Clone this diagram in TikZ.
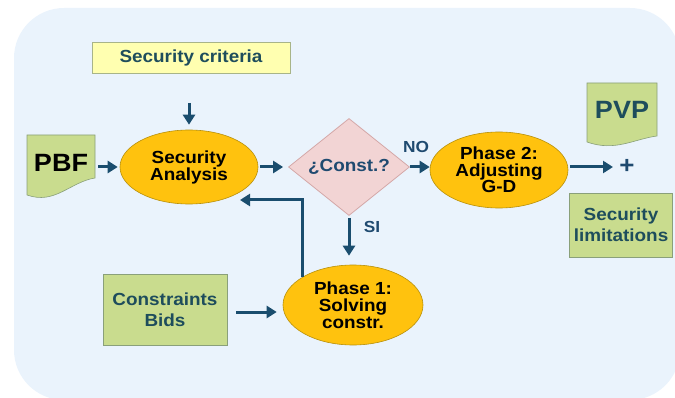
\documentclass[tikz,border=0pt]{standalone}
\usepackage{fontspec}
\setmainfont{Liberation Sans}[FakeStretch=1.08]
\usetikzlibrary{shapes.geometric,arrows.meta}

\definecolor{bgblue}{HTML}{EAF3FC}
\definecolor{flowblue}{HTML}{1A4D6E}
\definecolor{boxtext}{HTML}{1E4D5C}
\definecolor{labeltext}{HTML}{1F4A70}
\definecolor{gold}{HTML}{FFC20E}
\definecolor{goldline}{HTML}{B8900A}
\definecolor{leaf}{HTML}{C9DC8E}
\definecolor{leafline}{HTML}{8AA07A}
\definecolor{paleyellow}{HTML}{FFFFB0}
\definecolor{paleline}{HTML}{A8B488}
\definecolor{rose}{HTML}{F2D4D4}
\definecolor{roseline}{HTML}{D4A8A8}

\tikzset{
  txt/.style={font=\bfseries\fontsize{17.5}{17}\selectfont, align=center},
  oval/.style={txt, ellipse, draw=goldline, line width=0.6pt, fill=gold,
               inner sep=0pt, text=black},
  greenbox/.style={txt, rectangle, draw=leafline, line width=0.8pt, fill=leaf,
                   text=boxtext, inner sep=0pt,
                   font=\bfseries\fontsize{17.5}{21}\selectfont},
  docshape/.style={fill=leaf, draw=leafline, line width=0.6pt},
  doclabel/.style={txt, inner sep=0pt, font=\bfseries\fontsize{25}{25}\selectfont},
  arr/.style={draw=flowblue, line width=3pt,
              -{Triangle[width=12pt,length=10pt]}},
  flag/.style={txt, text=labeltext, font=\bfseries\fontsize{16}{16}\selectfont}
}

\begin{document}
\begin{tikzpicture}[x=1pt,y=-1pt]
  \useasboundingbox (0,0) rectangle (675,398);
  \clip (0,0) rectangle (675,398);

  % rounded light-blue backdrop
  \fill[bgblue, rounded corners=50pt] (14,8) rectangle (680,400);

  % document shapes (wavy bottom edge)
  \path[docshape] (27,135) -- (95,135) -- (95,178)
      .. controls (70,182) and (55,205) .. (27,195) -- cycle;
  \path[docshape] (587,83) -- (657,83) -- (657,136)
      .. controls (634,139) and (615,152) .. (587,142) -- cycle;

  % nodes
  \node[txt, rectangle, draw=paleline, line width=0.8pt, fill=paleyellow,
        text=boxtext, minimum width=198pt, minimum height=31pt, inner sep=0pt]
        (crit) at (191,58) {Security criteria};
  \node[doclabel, text=black, minimum width=68pt, minimum height=60pt]
        (pbf) at (61,163) {PBF};
  \node[doclabel, text=boxtext, minimum width=70pt, minimum height=54pt]
        (pvp) at (622,110) {PVP};
  \node[oval, minimum width=138pt, minimum height=74pt]
        (sa) at (189,167) {Security\\Analysis};
  \node[txt, diamond, draw=roseline, line width=0.8pt, fill=rose,
        text=labeltext, minimum width=121pt, minimum height=87pt, inner sep=0pt]
        (cond) at (349,167) {¿Const.?};
  \node[oval, minimum width=138pt, minimum height=76pt,
        font=\bfseries\fontsize{17.5}{16.5}\selectfont]
        (p2) at (499,170) {Phase 2:\\Adjusting\\G-D};
  \node[txt, text=labeltext, font=\bfseries\fontsize{24}{24}\selectfont]
        (plus) at (627,166) {+};
  \node[greenbox, minimum width=103pt, minimum height=64pt]
        (lim) at (621,225) {Security\\limitations};
  \node[oval, minimum width=140pt, minimum height=80pt]
        (p1) at (353,305) {Phase 1:\\Solving\\constr.};
  \node[greenbox, minimum width=124pt, minimum height=71pt]
        (cb) at (165,310) {Constraints\\Bids};

  % branch labels
  \node[flag] (no) at (416,147) {NO};
  \node[flag] (si) at (372,227) {SI};

  % connectors
  \coordinate (back) at (240,200);
  \draw[arr, shorten <=29pt, shorten >=5pt] (crit.south -| sa.north) -- (sa.north);
  \draw[arr, shorten <=3pt, shorten >=2pt] (pbf.east |- sa.west) -- (sa.west);
  \draw[arr, shorten <=2pt, shorten >=5pt] (sa.east) -- (cond.west);
  \draw[arr] (cond.east) -- (cond.east -| p2.west);
  \draw[arr, shorten <=2pt] (p2.east |- cond.east) -- ([xshift=-14pt]plus.center |- cond.east);
  \draw[arr, shorten <=2pt, shorten >=9pt] (cond.south) -- (cond.south |- p1.north);
  \draw[arr] (p1.151) |- (back);
  \draw[arr, shorten <=9pt, shorten >=6pt] ([yshift=-2pt]cb.east) -- ([yshift=-2pt]cb.east -| p1.west);
\end{tikzpicture}
\end{document}
